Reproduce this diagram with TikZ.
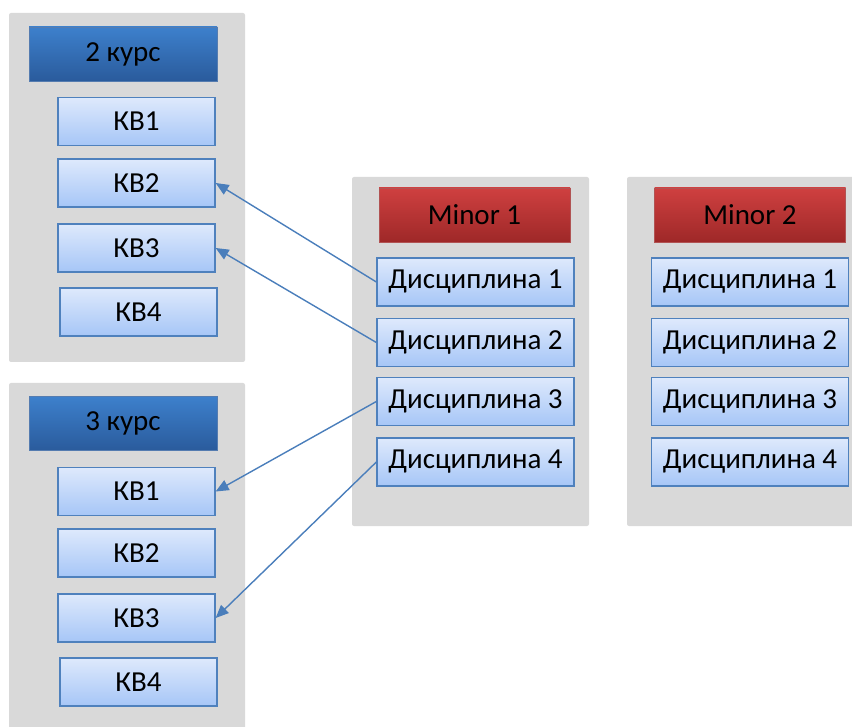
\documentclass[tikz,border=0pt]{standalone}
\usepackage{fontspec}
\setmainfont{Carlito}
\usetikzlibrary{arrows.meta}
\definecolor{panelgray}{HTML}{D9D9D9}
\definecolor{boxtop}{HTML}{DEE9FC}
\definecolor{boxbot}{HTML}{A6C6F7}
\definecolor{boxedge}{HTML}{4F81BD}
\definecolor{hdrtop}{HTML}{3D80CC}
\definecolor{hdrbot}{HTML}{2A5B9C}
\definecolor{redtop}{HTML}{CF4040}
\definecolor{redbot}{HTML}{9E2828}
\definecolor{arrowc}{HTML}{4A7EBB}
\begin{document}
\begin{tikzpicture}[x=1pt,y=-1pt,
  panel/.style={fill=panelgray, rounded corners=2pt},
  txt/.style={font=\fontsize{29}{34}\selectfont},
  kv/.style={txt, draw=boxedge, line width=1.3pt, top color=boxtop, bottom color=boxbot,
    minimum width=157pt, minimum height=48pt, inner sep=0pt},
  disc/.style={kv, minimum width=197pt},
  hdr/.style={txt, draw=hdrbot!80!white, line width=0.6pt, top color=hdrtop, bottom color=hdrbot,
    minimum width=188pt, minimum height=54pt, inner sep=0pt},
  red/.style={txt, draw=redbot!80!white, line width=0.6pt, top color=redtop, bottom color=redbot,
    minimum width=191pt, minimum height=54pt, inner sep=0pt},
  link/.style={draw=arrowc, line width=1.4pt, -{Triangle[length=13pt,width=11pt]}}
]
\useasboundingbox (0,0) rectangle (852,727);
% panels
\fill[panel] (9,13) rectangle (245,362);
\fill[panel] (9,383) rectangle (245,735);
\fill[panel] (352,177) rectangle (589,526);
\fill[panel] (627,177) rectangle (860,526);
% 2 course
\node[hdr] (h2) at (123,54) {2 курс};
\node[kv] (a1) at (136.5,121.5) {КВ1};
\node[kv] (a2) at (136.5,183) {КВ2};
\node[kv] (a3) at (136.5,248) {КВ3};
\node[kv] (a4) at (138.5,312) {КВ4};
% 3 course
\node[hdr] (h3) at (123,423.5) {3 курс};
\node[kv] (b1) at (136.5,491.5) {КВ1};
\node[kv] (b2) at (136.5,553) {КВ2};
\node[kv] (b3) at (136.5,618) {КВ3};
\node[kv] (b4) at (138.5,682) {КВ4};
% Minor 1
\node[red] (m1) at (474.5,215) {Minor 1};
\node[disc] (c1) at (475.5,282) {Дисциплина 1};
\node[disc] (c2) at (475.5,342.5) {Дисциплина 2};
\node[disc] (c3) at (475.5,401.5) {Дисциплина 3};
\node[disc] (c4) at (475.5,462) {Дисциплина 4};
% Minor 2
\node[red] (m2) at (750,215) {Minor 2};
\node[disc] (d1) at (750,282) {Дисциплина 1};
\node[disc] (d2) at (750,342.5) {Дисциплина 2};
\node[disc] (d3) at (750,401.5) {Дисциплина 3};
\node[disc] (d4) at (750,462) {Дисциплина 4};
% links
\draw[link] (c1.west) -- (a2.east);
\draw[link] (c2.west) -- (a3.east);
\draw[link] (c3.west) -- (b1.east);
\draw[link] (c4.west) -- (b3.east);
\end{tikzpicture}
\end{document}
